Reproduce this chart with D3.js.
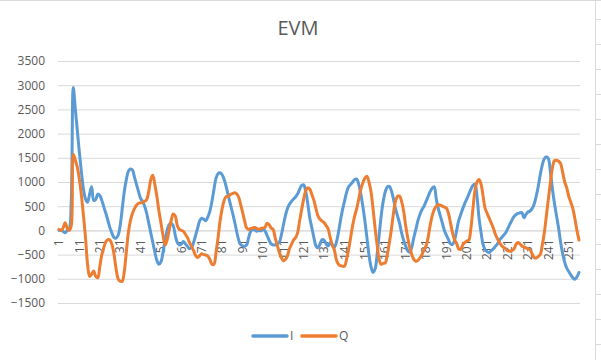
<!DOCTYPE html>
<html><head><meta charset="utf-8">
<script src="https://cdn.jsdelivr.net/npm/d3@7"></script>
<style>html,body{margin:0;padding:0;background:#fff;}svg{display:block;}</style>
</head><body>
<svg id="c" width="601" height="360"></svg>
<script>
const title = "EVM";
const seriesNames = ["I", "Q"];
const yTicks = [-1500, -1000, -500, 0, 500, 1000, 1500, 2000, 2500, 3000, 3500];
const seriesI = [
0,10,-20,-50,0,30,600,2950,2500,2050,1600,1200,850,650,580,750,900,620,640,750,
720,620,480,350,200,50,-60,-150,-160,-100,100,450,800,1050,1220,1270,1250,1100,950,800,
660,600,500,350,150,-50,-250,-450,-620,-700,-650,-450,-200,0,120,150,100,-100,-250,-300,
-280,-230,-280,-330,-380,-350,-250,-100,50,200,250,230,200,280,400,600,850,1080,1170,1190,
1150,1050,900,720,550,380,200,0,-180,-290,-320,-330,-300,-150,-20,20,10,-20,0,-10,
20,-10,-100,-200,-280,-300,-300,-280,-250,-100,100,300,450,540,600,650,690,750,850,930,
940,800,550,250,50,-150,-320,-360,-280,-190,-200,-280,-320,-250,-300,-350,-250,-50,200,420,
600,780,900,950,1000,1050,1060,950,750,500,200,-150,-500,-750,-870,-800,-500,-100,300,600,
800,900,910,820,650,450,300,150,-50,-200,-320,-420,-450,-350,-150,20,200,330,430,500,
600,700,800,870,900,650,450,300,150,0,-100,-190,-280,-290,-200,0,200,330,450,560,
650,750,850,930,950,700,250,-50,-300,-400,-440,-455,-420,-380,-330,-280,-200,-150,-100,-50,
30,120,200,280,320,350,360,370,260,330,380,400,450,540,700,900,1150,1350,1480,1520,
1480,1200,850,550,300,50,-250,-480,-660,-780,-850,-920,-980,-1010,-960,-870
];
const seriesQ = [
20,0,50,160,50,0,100,1570,1450,1300,1050,720,300,-150,-700,-950,-900,-840,-950,-980,
-750,-500,-350,-230,-190,-200,-300,-500,-800,-1000,-1050,-1050,-850,-450,-50,200,350,450,520,560,
570,580,600,640,800,1050,1140,950,700,400,150,-100,-300,-200,0,200,340,300,100,20,
0,-20,-80,-150,-250,-330,-420,-520,-560,-520,-480,-500,-510,-530,-600,-700,-700,-450,-150,200,
450,620,700,700,740,760,780,760,700,550,380,200,50,20,40,50,60,40,20,40,
50,60,150,120,50,20,-150,-300,-450,-550,-630,-600,-530,-380,-290,-200,-150,-50,200,430,
650,820,880,850,740,620,450,300,230,190,160,100,30,-150,-300,-400,-600,-700,-730,-740,
-740,-600,-400,-150,100,300,450,650,850,980,1080,1120,1000,800,450,50,-300,-600,-700,-680,
-670,-500,-250,20,350,600,700,710,600,400,100,-150,-350,-500,-600,-640,-620,-570,-500,-400,
-320,-150,100,300,430,500,530,520,500,480,460,350,150,-50,-200,-270,-380,-390,-300,-250,
-220,-200,50,450,830,1000,1050,950,700,450,350,250,150,50,-80,-170,-250,-310,-350,-380,
-420,-430,-420,-390,-300,-250,-280,-320,-340,-360,-380,-400,-480,-560,-570,-540,-500,-300,-50,300,
650,1000,1300,1440,1450,1430,1380,1200,1000,880,700,580,450,240,0,-200
];
const categories = d3.range(1, seriesI.length + 1);
const xTickLabels = categories.filter(c => (c - 1) % 10 === 0);

const colors = ["#5B9BD5", "#ED7D31"];
const font = "'Open Sans', 'Liberation Sans', sans-serif";
const txt = "#595959";

const svg = d3.select("#c");
const W = 601, H = 360;
const plot = {left: 58, right: 580, top: 61, bottom: 303};

// outer chart frame bits
svg.append("line").attr("x1", 0).attr("x2", W).attr("y1", 0.5).attr("y2", 0.5).attr("stroke", "#D9D9D9");
svg.append("line").attr("x1", 595.5).attr("x2", 595.5).attr("y1", 0).attr("y2", H).attr("stroke", "#D9D9D9");
svg.append("g").selectAll("line").data(d3.range(19, H, 25)).join("line")
  .attr("x1", 596).attr("x2", 601).attr("y1", d => d + 0.5).attr("y2", d => d + 0.5).attr("stroke", "#D9D9D9");

svg.append("text").attr("x", 298).attr("y", 35).attr("text-anchor", "middle")
  .attr("font-family", font).attr("font-size", 20).attr("fill", txt).text(title);

const x = d3.scaleBand().domain(categories).range([plot.left, plot.right]);
const xc = d => x(d) + x.bandwidth() / 2;
const y = d3.scaleLinear().domain([-1500, 3500]).range([plot.bottom, plot.top]);

// gridlines
const yAxis = d3.axisLeft(y).tickValues(yTicks).tickSize(-(plot.right - plot.left)).tickPadding(13).tickFormat(d3.format("d"));
const gy = svg.append("g").attr("transform", `translate(${plot.left},0)`).call(yAxis);
gy.select(".domain").remove();
gy.selectAll(".tick line").attr("stroke", "#D9D9D9").attr("stroke-width", 1);
gy.selectAll(".tick text").attr("font-family", font).attr("font-size", 12).attr("fill", txt);

// category axis at value 0
const xAxis = d3.axisBottom(x).tickValues(xTickLabels).tickSize(0).tickPadding(0);
const gx = svg.append("g").attr("transform", `translate(0,${y(0)})`).call(xAxis);
gx.select(".domain").attr("stroke", "#D9D9D9");
gx.selectAll(".tick text")
  .attr("font-family", font).attr("font-size", 12).attr("fill", txt)
  .attr("transform", "translate(0,9) rotate(-90)")
  .attr("text-anchor", "end").attr("dy", "0.35em").attr("y", 0).attr("x", 0);

const line = d3.line().x((d, i) => xc(categories[i])).y(d => y(d)).curve(d3.curveCatmullRom.alpha(0.5));
const data = [seriesI, seriesQ];
svg.append("g").selectAll("path").data(data).join("path")
  .attr("d", d => line(d)).attr("fill", "none")
  .attr("stroke", (d, i) => colors[i]).attr("stroke-width", 3)
  .attr("stroke-linejoin", "round").attr("stroke-linecap", "round");

// legend
const leg = svg.append("g");
const legX = [253, 302];
seriesNames.forEach((n, i) => {
  leg.append("line").attr("x1", legX[i]).attr("x2", legX[i] + 34).attr("y1", 336).attr("y2", 336)
    .attr("stroke", colors[i]).attr("stroke-width", 3.5).attr("stroke-linecap", "round");
  leg.append("text").attr("x", legX[i] + 37).attr("y", 336).attr("dy", "0.35em")
    .attr("font-family", font).attr("font-size", 12).attr("fill", txt).text(n);
});
</script>
</body></html>
